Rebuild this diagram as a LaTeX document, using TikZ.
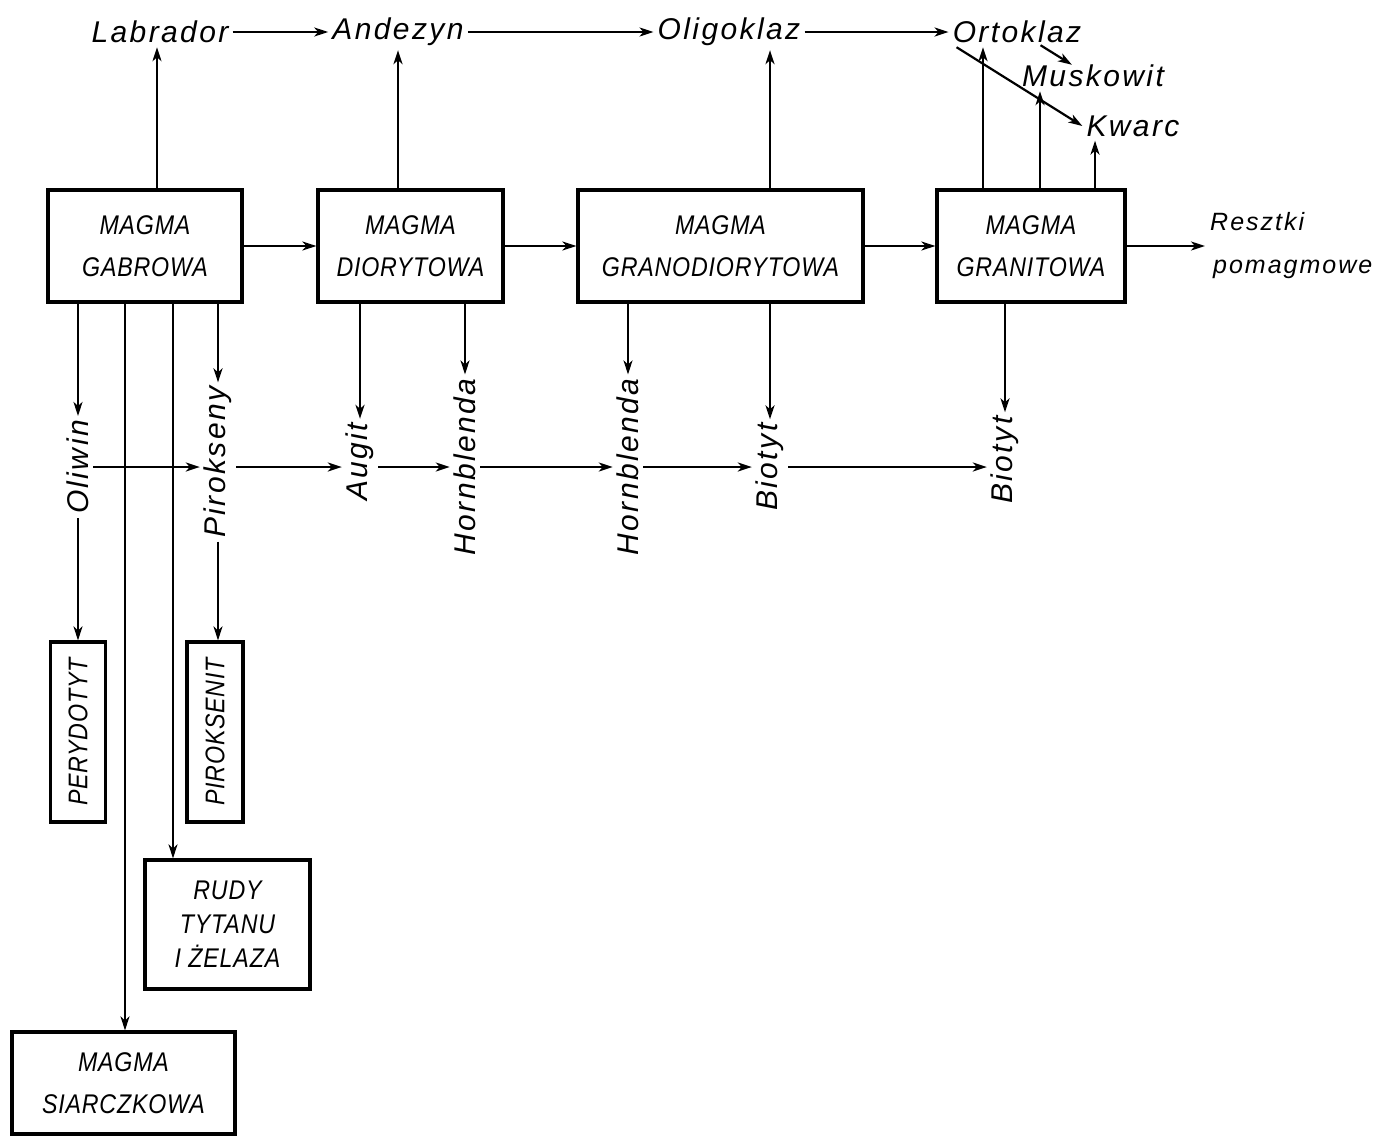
\documentclass[tikz,border=0pt]{standalone}
\usepackage{fontspec}
\newfontfamily\labfont{Liberation Sans Italic}[LetterSpace=8]
\newfontfamily\boxfont{Liberation Sans Italic}[LetterSpace=3,FakeStretch=0.86]
\usetikzlibrary{arrows.meta}
\begin{document}
\begin{tikzpicture}[x=1pt,y=-1pt,
  arr/.style={line width=2.2pt,-{Stealth[length=14pt,width=9pt,inset=4pt]}},
  mbox/.style={draw,line width=3.2pt,font=\boxfont\fontsize{27}{42}\selectfont,align=center,inner sep=0pt},
  lab/.style={font=\labfont\fontsize{30}{34}\selectfont,inner sep=4pt},
  vlab/.style={lab,rotate=90},
  rlab/.style={font=\labfont\fontsize{25}{43}\selectfont,align=left,inner sep=0pt}]
\useasboundingbox (0,0) rectangle (1384,1138);
\fill[white] (0,0) rectangle (1384,1138);
% top minerals
\node[lab] (lab) at (160,32) {Labrador};
\node[lab] (and) at (398,32) {Andezyn};
\node[lab] (olig) at (729,32) {Oligoklaz};
\node[lab] (ort) at (1017,32) {Ortoklaz};
\node[lab] (musk) at (1093,76) {Muskowit};
\node[lab] (kw) at (1133,126) {Kwarc};
% magma boxes
\node[mbox,minimum width=194pt,minimum height=112pt] (gab) at (145,246) {MAGMA\\GABROWA};
\node[mbox,minimum width=185pt,minimum height=112pt] (dio) at (410.5,246) {MAGMA\\DIORYTOWA};
\node[mbox,minimum width=285pt,minimum height=112pt] (gdio) at (720.5,246) {MAGMA\\GRANODIORYTOWA};
\node[mbox,minimum width=188pt,minimum height=112pt] (grn) at (1031,246) {MAGMA\\GRANITOWA};
\node[rlab,anchor=west] (resz) at (1210,246) {Resztki\\\hspace*{3pt}pomagmowe};
% lower boxes
\node[mbox,rotate=90,minimum width=180pt,minimum height=55pt] (per) at (78,732) {PERYDOTYT};
\node[mbox,rotate=90,minimum width=180pt,minimum height=56pt] (pirx) at (215,732) {PIROKSENIT};
\node[mbox,minimum width=165pt,minimum height=129pt,font=\boxfont\fontsize{27}{34}\selectfont] (rudy) at (227.5,924.5) {RUDY\\TYTANU\\I ŻELAZA};
\node[mbox,minimum width=223pt,minimum height=102pt] (siar) at (123.5,1083) {MAGMA\\SIARCZKOWA};
% rotated minerals
\node[vlab] (oliw) at (78,467) {Oliwin};
\node[vlab] (pirok) at (218,462) {Pirokseny};
\node[vlab] (aug) at (360,462) {Augit};
\node[vlab] (hb1) at (465,467) {Hornblenda};
\node[vlab] (hb2) at (628,467) {Hornblenda};
\node[vlab] (bio1) at (770,467) {Biotyt};
\node[vlab] (bio2) at (1005,460) {Biotyt};
% top chain
\draw[arr] (lab) -- (and);
\draw[arr] (and) -- (olig);
\draw[arr] (olig) -- (ort);
% box chain
\draw[arr] (gab) -- (dio);
\draw[arr] (dio) -- (gdio);
\draw[arr] (gdio) -- (grn);
\draw[arr] (grn.east) -- ([xshift=-5pt]resz.west);
% upward arrows
\draw[arr] (gab.north -| 157,0) -- (lab.south -| 157,0);
\draw[arr] (dio.north -| and.south) -- (and.south);
\draw[arr] (gdio.north -| 770,0) -- (olig.south -| 770,0);
\draw[arr] (grn.north -| 983,0) -- (ort.south -| 983,0);
\draw[arr] (grn.north -| 1040,0) -- (musk.south -| 1040,0);
\draw[arr] (grn.north -| 1095,0) -- (kw.south -| 1095,0);
% diagonal arrows near Ortoklaz
\draw[arr] ([xshift=8pt,yshift=0pt]ort.south west) -- (kw.west);
\draw[arr] ([xshift=92pt,yshift=2pt]ort.south west) -- ([xshift=54pt,yshift=-4pt]musk.north west);
% downward from Gabrowa
\draw[arr] (gab.south -| oliw.east) -- (oliw.east);
\draw[arr] (oliw.west) -- (oliw.west |- per.east);
\draw[arr] (gab.south -| pirok.east) -- (pirok.east);
\draw[arr] (pirok.west) -- (pirok.west |- pirx.east);
\draw[arr] (gab.south -| 125,0) -- (siar.north -| 125,0);
\draw[arr] (gab.south -| 173,0) -- (rudy.north -| 173,0);
% downward from others
\draw[arr] (dio.south -| aug.east) -- (aug.east);
\draw[arr] (dio.south -| hb1.east) -- (hb1.east);
\draw[arr] (gdio.south -| hb2.east) -- (hb2.east);
\draw[arr] (gdio.south -| bio1.east) -- (bio1.east);
\draw[arr] (grn.south -| bio2.east) -- (bio2.east);
% middle chain
\draw[arr] (oliw.south) -- (pirok.north |- oliw.south);
\draw[arr] (pirok.south |- oliw.south) -- (aug.north |- oliw.south);
\draw[arr] (aug.south |- oliw.south) -- (hb1.north |- oliw.south);
\draw[arr] (hb1.south) -- (hb2.north);
\draw[arr] (hb2.south) -- (bio1.north);
\draw[arr] (bio1.south) -- (bio2.north |- bio1.south);
\end{tikzpicture}
\end{document}
